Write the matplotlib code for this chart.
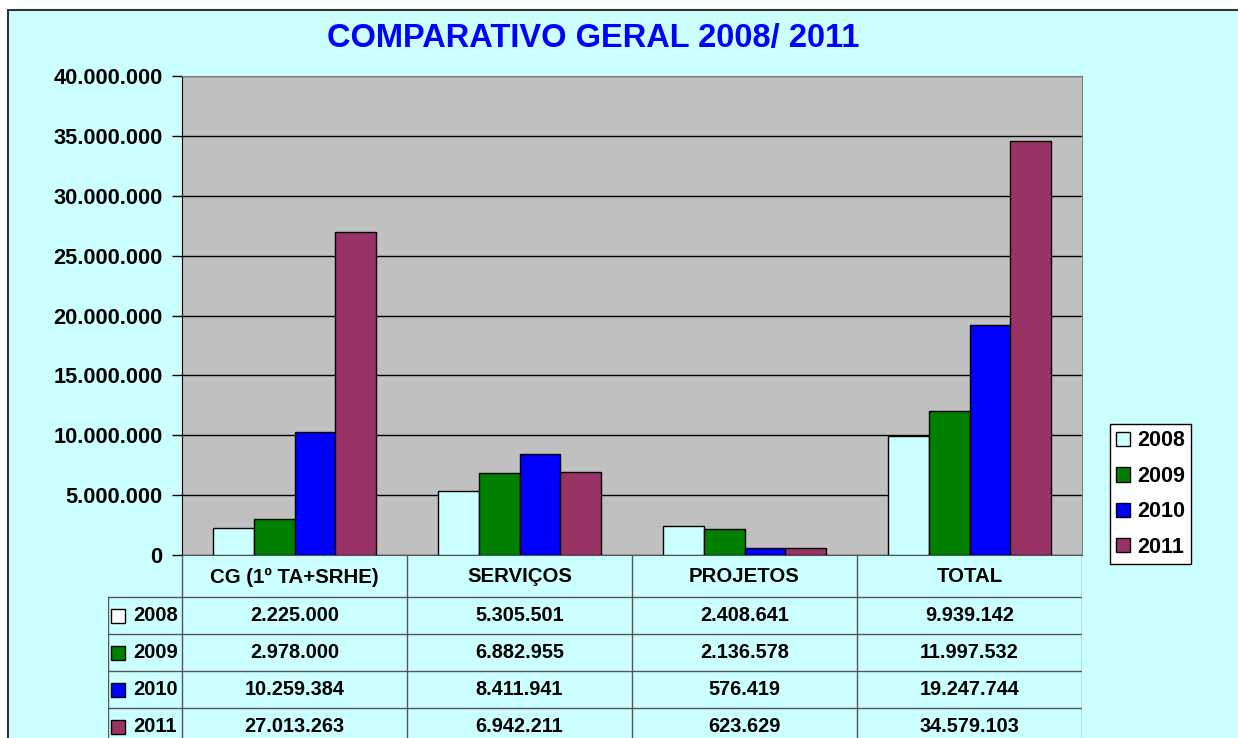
import numpy as np
import matplotlib
matplotlib.use("Agg")
import matplotlib.pyplot as plt
from matplotlib.patches import Rectangle, Patch

# --------------------
# Data
# --------------------
categories = ["CG (1º TA+SRHE)", "SERVIÇOS", "PROJETOS", "TOTAL"]
years = ["2008", "2009", "2010", "2011"]
v2008 = [2225000, 5305501, 2408641, 9939142]
v2009 = [2978000, 6882955, 2136578, 11997532]
v2010 = [10259384, 8411941, 576419, 19247744]
v2011 = [27013263, 6942211, 623629, 34579103]
series = [v2008, v2009, v2010, v2011]
colors = ["#CCFFFF", "#008000", "#0000FF", "#993366"]

plt.rcParams["font.family"] = ["Liberation Sans", "DejaVu Sans"]
plt.rcParams["font.weight"] = "bold"

W, H = 1238, 738


def px(x0, y0, x1, y1):
    # pixel box -> figure rect
    return [x0 / W, 1 - y1 / H, (x1 - x0) / W, (y1 - y0) / H]


def fmt(v):
    return f"{v:,}".replace(",", ".")


fig = plt.figure(figsize=(W / 100, H / 100), dpi=100)
fig.patch.set_facecolor("white")

# outer chart frame
fig.patches.append(Rectangle((8 / W, -0.1), 1.1, 1 - 10 / H + 0.1,
                             transform=fig.transFigure, facecolor="#CCFFFF",
                             edgecolor="#333333", lw=1.5, zorder=-10))

fig.text(593 / W, 1 - 39 / H, "COMPARATIVO GERAL 2008/ 2011", color="#0000FF",
         fontsize=23.5, fontweight="bold", ha="center", va="center")

# --------------------
# Bars
# --------------------
ax = fig.add_axes(px(182, 76, 1082, 555))
ax.set_facecolor("#C0C0C0")
x = np.arange(len(categories))
w = 1 / 5.5
for i, (vals, c) in enumerate(zip(series, colors)):
    ax.bar(x + (i - 1.5) * w, vals, w, color=c, edgecolor="black", lw=1, zorder=3)

ax.set_xlim(-0.5, 3.5)
ax.set_ylim(0, 40000000)
ticks = np.arange(0, 40000001, 5000000)
ax.set_yticks(ticks)
ax.set_yticklabels([fmt(t) for t in ticks], fontsize=15.7, fontweight="bold")
ax.set_xticks([])
ax.yaxis.grid(True, color="black", lw=1, zorder=1)
ax.tick_params(axis="y", length=7, width=1, pad=7)
for s in ["top", "right"]:
    ax.spines[s].set_color("#808080")
ax.spines["left"].set_color("black")
ax.spines["bottom"].set_color("#555555")

# --------------------
# Data table
# --------------------
lab_w = 74 / 225
tax = fig.add_axes(px(108, 555, 1082, 745))
tax.set_xlim(-0.5 - lab_w, 3.5)
tax.set_ylim(190, 0)
tax.axis("off")
rows = [0, 42, 79, 116, 153, 190]
lc = "#555555"
for xv in [-0.5, 0.5, 1.5, 2.5, 3.5]:
    tax.plot([xv, xv], [0, 190], color=lc, lw=1)
tax.plot([-0.5 - lab_w] * 2, [42, 190], color=lc, lw=1)
for yv in rows[1:-1]:
    tax.plot([-0.5 - lab_w, 3.5], [yv, yv], color=lc, lw=1)

for j, cat in enumerate(categories):
    tax.text(j, 22, cat, ha="center", va="center", fontsize=14.7, fontweight="bold")
for i, (yr, vals, c) in enumerate(zip(years, series, colors)):
    yc = (rows[i + 1] + rows[i + 2]) / 2
    tax.plot([-0.5 - lab_w + 10 / 225], [yc], marker="s", ms=9.5,
             mfc=c if i else "white", mec="black", mew=1)
    tax.text(-0.5 - lab_w + 25 / 225, yc, yr, ha="left", va="center",
             fontsize=14.5, fontweight="bold")
    for j, v in enumerate(vals):
        tax.text(j, yc, fmt(v), ha="center", va="center", fontsize=14.3, fontweight="bold")

# --------------------
# Legend
# --------------------
handles = [Patch(facecolor=c, edgecolor="black", lw=1) for c in colors]
leg = fig.legend(handles, years, loc="upper left", bbox_to_anchor=(1110 / W, 1 - 424 / H),
                 prop={"size": 15.5, "weight": "bold"}, fancybox=False, framealpha=1,
                 edgecolor="black", handlelength=0.65, handleheight=0.65,
                 handletextpad=0.3, labelspacing=0.67, borderpad=0.3, borderaxespad=0)
leg.get_frame().set_linewidth(1)

fig.savefig("out.png", dpi=100)
